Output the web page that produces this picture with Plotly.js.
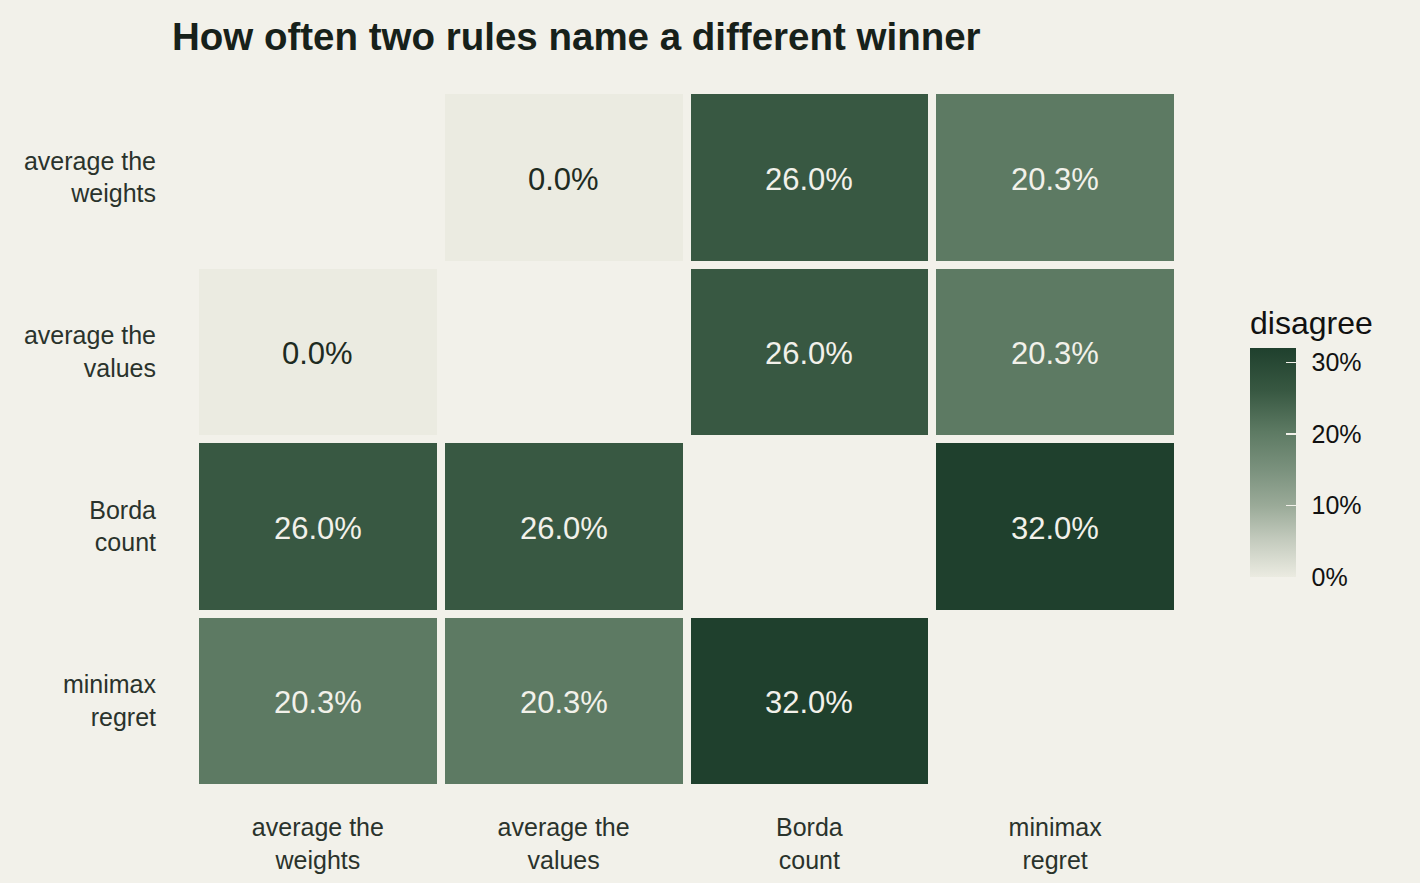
<!DOCTYPE html>
<html>
<head>
<meta charset="utf-8">
<script src="https://cdn.plot.ly/plotly-3.0.1.min.js"></script>
<style>html,body{margin:0;padding:0;background:#F2F1EA;}#chart{width:1420px;height:883px;}</style>
</head>
<body>
<div id="chart"></div>
<script>
// Data
const rules = ["average the<br>weights", "average the<br>values", "Borda<br>count", "minimax<br>regret"];
const colLabels = rules;
const rowLabels = rules;
// disagreement rate (fraction), row = y rule, col = x rule; diagonal empty
const rowWeights = [null, 0.000, 0.260, 0.203];
const rowValues  = [0.000, null, 0.260, 0.203];
const rowBorda   = [0.260, 0.260, null, 0.320];
const rowMinimax = [0.203, 0.203, 0.320, null];
const zMatrix = [rowWeights, rowValues, rowBorda, rowMinimax];
const colorTicks = [0, 0.1, 0.2, 0.3];
const colorTickText = ["0%", "10%", "20%", "30%"];

const bg = "#F2F1EA";
const font = "Liberation Sans, Arial, Helvetica, sans-serif";

const annotations = [];
zMatrix.forEach((row, i) => row.forEach((v, j) => {
  if (v === null) return;
  annotations.push({
    x: colLabels[j], y: rowLabels[i], xref: "x", yref: "y",
    text: (v * 100).toFixed(1) + "%", showarrow: false, yshift: -2,
    font: {family: font, size: 31, color: v > 0.1 ? "#F2F1EA" : "#1E2B22"}
  });
}));

const heat = {
  type: "heatmap",
  x: colLabels, y: rowLabels, z: zMatrix,
  zmin: 0, zmax: 0.32,
  xgap: 8, ygap: 8,
  hoverinfo: "skip",
  colorscale: [
    [0, "#EBEBE1"],
    [0.16, "#C4CBBE"],
    [0.3125, "#9AAA98"],
    [0.47, "#7A917D"],
    [0.634, "#5D7A63"],
    [0.8125, "#385842"],
    [1, "#1F402D"]
  ],
  colorbar: {
    title: {text: "disagree", side: "top", font: {family: font, size: 32, color: "#111"}},
    thickness: 46, thicknessmode: "pixels",
    len: 270, lenmode: "pixels",
    x: (1250 - 195) / 983, xanchor: "left", xref: "paper",
    y: (788 - 577) / 698, yanchor: "bottom",
    outlinewidth: 0, xpad: 0, ypad: 0,
    tickvals: colorTicks,
    ticktext: colorTickText.map(t => "\u2009\u2009" + t),
    ticks: "inside", ticklen: 10, tickcolor: "#F2F1EA", tickwidth: 1.5,
    tickfont: {family: font, size: 25, color: "#111"}
  }
};

const layout = {
  width: 1420, height: 883,
  paper_bgcolor: bg, plot_bgcolor: bg,
  margin: {l: 195, r: 242, t: 90, b: 95},
  title: {
    text: "<b>How often two rules name a different winner</b>",
    x: 172 / 1420, xref: "container", xanchor: "left",
    y: 1 - 37 / 883, yref: "container", yanchor: "middle",
    font: {family: font, size: 38.5, color: "#17211A"}
  },
  xaxis: {
    type: "category", showgrid: false, zeroline: false, showline: false,
    ticks: "", ticklabelstandoff: 22,
    tickfont: {family: font, size: 25, color: "#2A332C"}
  },
  yaxis: {
    type: "category", autorange: "reversed", showgrid: false, zeroline: false, showline: false,
    ticks: "", ticklabelstandoff: 38,
    tickfont: {family: font, size: 25, color: "#2A332C"}
  },
  annotations: annotations,
  showlegend: false
};

Plotly.newPlot("chart", [heat], layout, {displayModeBar: false, staticPlot: true});
</script>
</body>
</html>
